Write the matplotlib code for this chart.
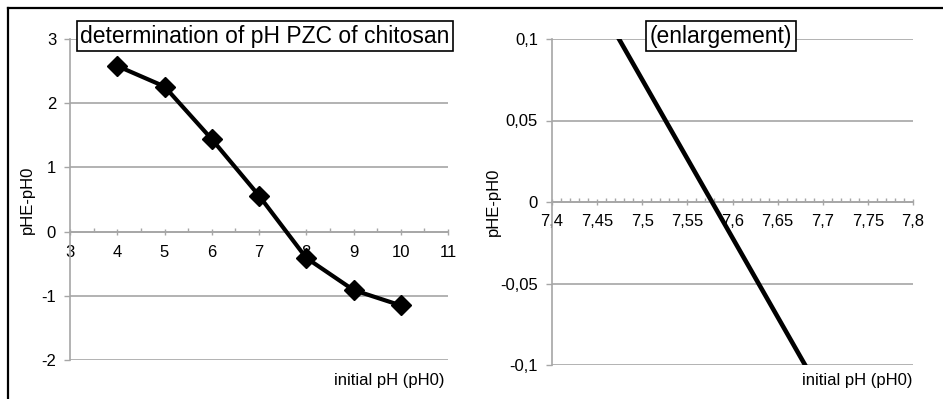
import numpy as np
import matplotlib
matplotlib.use("Agg")
import matplotlib.pyplot as plt
from matplotlib.lines import Line2D
from matplotlib.ticker import MultipleLocator, FuncFormatter

plt.rcParams['font.family'] = ['Liberation Sans', 'DejaVu Sans']

# data
initial_ph = [4, 5, 6, 7, 8, 9, 10]
delta_ph = [2.58, 2.26, 1.44, 0.56, -0.41, -0.91, -1.15]

main_title = "determination of pH PZC of chitosan"
zoom_title = "(enlargement)"
x_label = "initial pH (pH0)"
y_label = "pHE-pH0"

GRID = '#a6a6a6'
W, H = 943, 399
FS = 12

fig = plt.figure(figsize=(W / 100, H / 100), dpi=100)


def px_axes(x0, y0, x1, y1):
    # pixel box -> figure fraction
    return fig.add_axes([x0 / W, 1 - y1 / H, (x1 - x0) / W, (y1 - y0) / H])


def comma(v, pos):
    s = f"{v:.2f}".rstrip('0').rstrip('.')
    if s in ('-0', ''):
        s = '0'
    return s.replace('.', ',')


def style_axes(ax, xlim, ylim, xmaj, xmin, ymaj, xpad):
    ax.set_xlim(*xlim)
    ax.set_ylim(*ylim)
    for s in ('top', 'right'):
        ax.spines[s].set_visible(False)
    ax.spines['left'].set_color(GRID)
    ax.spines['left'].set_linewidth(1.2)
    ax.spines['bottom'].set_position(('data', 0))
    ax.spines['bottom'].set_color(GRID)
    ax.spines['bottom'].set_linewidth(1.2)
    ax.xaxis.set_major_locator(MultipleLocator(xmaj))
    ax.xaxis.set_minor_locator(MultipleLocator(xmin))
    ax.yaxis.set_major_locator(MultipleLocator(ymaj))
    ax.yaxis.set_major_formatter(FuncFormatter(comma))
    ax.xaxis.set_major_formatter(FuncFormatter(comma))
    ax.tick_params(axis='x', which='major', direction='inout', length=5,
                   color=GRID, width=1, labelsize=FS, pad=xpad)
    ax.tick_params(axis='x', which='minor', direction='in', length=3,
                   color=GRID, width=1)
    ax.tick_params(axis='y', which='major', direction='out', length=4,
                   color=GRID, width=1, labelsize=FS, pad=6)
    ax.grid(axis='y', color=GRID, lw=1.2)
    ax.set_axisbelow(True)
    ax.patch.set_visible(False)


def boxed_title(ax, x, text):
    ax.text(x, 1.009, text, transform=ax.transAxes, ha='center',
            va='center', fontsize=16.5, zorder=5,
            bbox=dict(boxstyle='square,pad=0.16', fc='white', ec='black',
                      lw=1.2))


# left: full curve
ax1 = px_axes(70, 39, 448, 360)
style_axes(ax1, (3, 11), (-2, 3), 1, 0.5, 1, 7)
ax1.plot(initial_ph, delta_ph, color='black', lw=3, marker='D',
         markersize=10, zorder=3)
boxed_title(ax1, 0.516, main_title)
fig.text(27 / W, 1 - 200 / H, y_label, rotation=90, ha='center',
         va='center', fontsize=FS)
fig.text(445 / W, 1 - 380 / H, x_label, ha='right', va='center',
         fontsize=FS)

# right: enlargement around the zero crossing
ax2 = px_axes(552, 39, 913, 365)
style_axes(ax2, (7.4, 7.8), (-0.1, 0.1), 0.05, 0.01, 0.05, 6)
ax2.plot(initial_ph, delta_ph, color='black', lw=3.3, zorder=3)
boxed_title(ax2, 0.468, zoom_title)
fig.text(493 / W, 1 - 202 / H, y_label, rotation=90, ha='center',
         va='center', fontsize=FS)
fig.text(913 / W, 1 - 380 / H, x_label, ha='right', va='center',
         fontsize=FS)

# cropped chart frame (left and top edges)
fig.add_artist(Line2D([8 / W, 8 / W], [0, 1 - 8 / H], color='black', lw=1.6,
                      transform=fig.transFigure))
fig.add_artist(Line2D([8 / W, 1], [1 - 8 / H, 1 - 8 / H], color='black',
                      lw=1.6, transform=fig.transFigure))

fig.savefig('out.png', dpi=100)
